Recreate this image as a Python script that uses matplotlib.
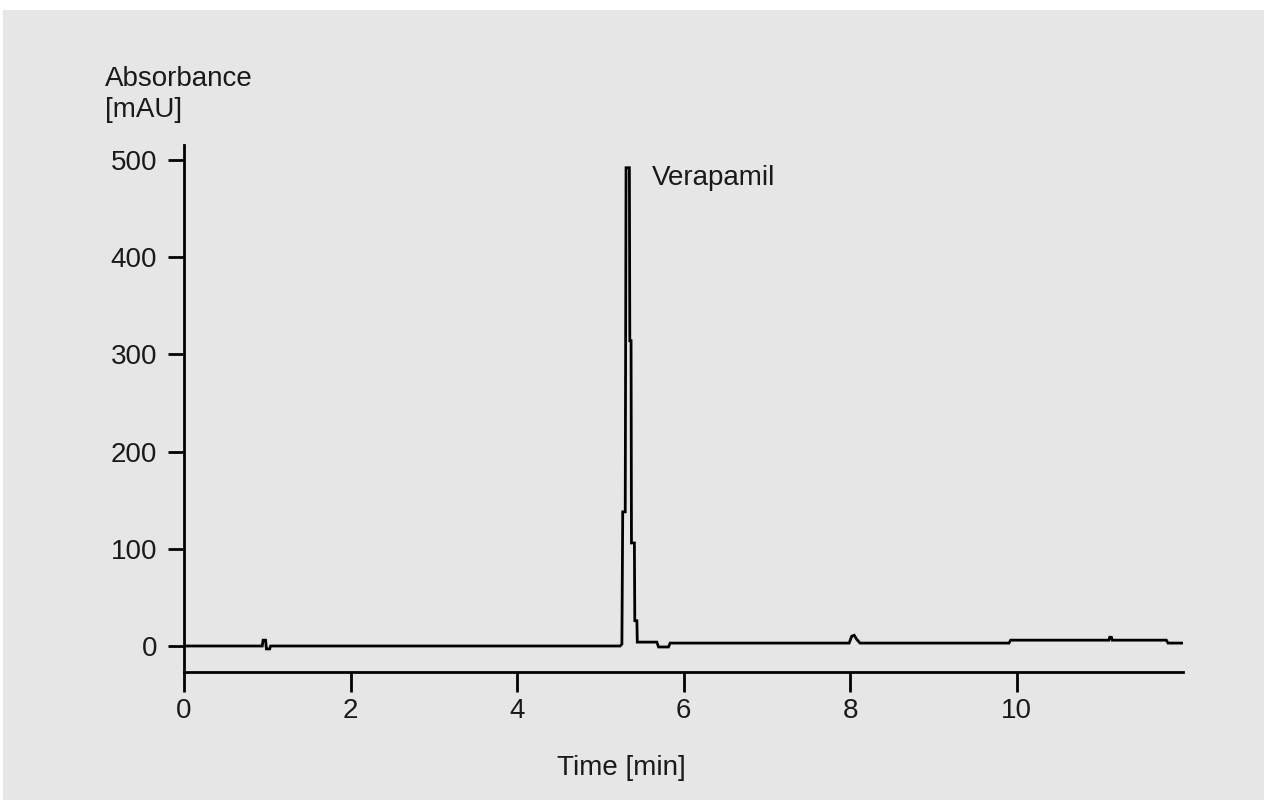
import matplotlib
matplotlib.use("Agg")
import matplotlib.pyplot as plt
from matplotlib.patches import Rectangle

plt.rcParams['font.family'] = ['Liberation Sans', 'DejaVu Sans']

# Chromatogram data (time in min, absorbance in mAU)
time_min = [0, 0.94, 0.95, 0.98, 0.99, 1.03, 1.04,
            5.24, 5.26, 5.27, 5.30, 5.31, 5.35, 5.355, 5.37, 5.375, 5.41, 5.415, 5.44, 5.445,
            5.68, 5.70, 5.82, 5.84,
            7.99, 8.02, 8.05, 8.08, 8.12,
            9.91, 9.93,
            11.11, 11.12, 11.14, 11.15,
            11.80, 11.82, 12.0]
absorbance = [0, 0, 6, 6, -3, -3, 0,
              0, 2, 138, 138, 492, 492, 314, 314, 106, 106, 26, 26, 4,
              4, -1, -1, 3,
              3, 10, 11, 7, 3,
              3, 6,
              6, 9, 9, 6,
              6, 3, 3]

x_ticks = [0, 2, 4, 6, 8, 10]
y_ticks = [0, 100, 200, 300, 400, 500]
peak_label = "Verapamil"
peak_label_pos = (5.62, 481)

W, H = 1264, 800
fig = plt.figure(figsize=(W / 100, H / 100), dpi=100, facecolor='white')
bg = Rectangle((3 / W, 0), 1 - 3 / W, 1 - 10 / H, transform=fig.transFigure,
               facecolor='#e6e6e6', edgecolor='none', zorder=-10)
fig.patches.append(bg)

ax = fig.add_axes([184 / W, 128 / H, (1183 - 184) / W, (672 - 145) / H])
ax.set_zorder(5)
ax.set_facecolor('none')
ax.plot(time_min, absorbance, color='black', lw=2.0, solid_joinstyle='miter')
ax.set_xlim(0, 12)
ax.set_ylim(-26.75, 515.4)

for s in ['top', 'right']:
    ax.spines[s].set_visible(False)
for s in ['left', 'bottom']:
    ax.spines[s].set_linewidth(2.0)
    ax.spines[s].set_color('black')

ax.set_xticks(x_ticks)
ax.set_yticks(y_ticks)
ax.tick_params(axis='x', direction='out', length=14.4, width=2.0, pad=4, labelsize=20, labelcolor='#1a1a1a')
ax.tick_params(axis='y', direction='out', length=11.5, width=2.0, pad=8, labelsize=20, labelcolor='#1a1a1a')

ax.text(peak_label_pos[0], peak_label_pos[1], peak_label, fontsize=20, ha='left', va='center', color='#1a1a1a')

fig.text(105 / W, 1 - 66 / H, "Absorbance\n[mAU]", fontsize=20, ha='left', va='top',
         linespacing=1.25, color='#1a1a1a')
fig.text(621 / W, 1 - 768 / H, "Time [min]", fontsize=20, ha='center', va='center', color='#1a1a1a')

fig.savefig("out.png", dpi=100)
